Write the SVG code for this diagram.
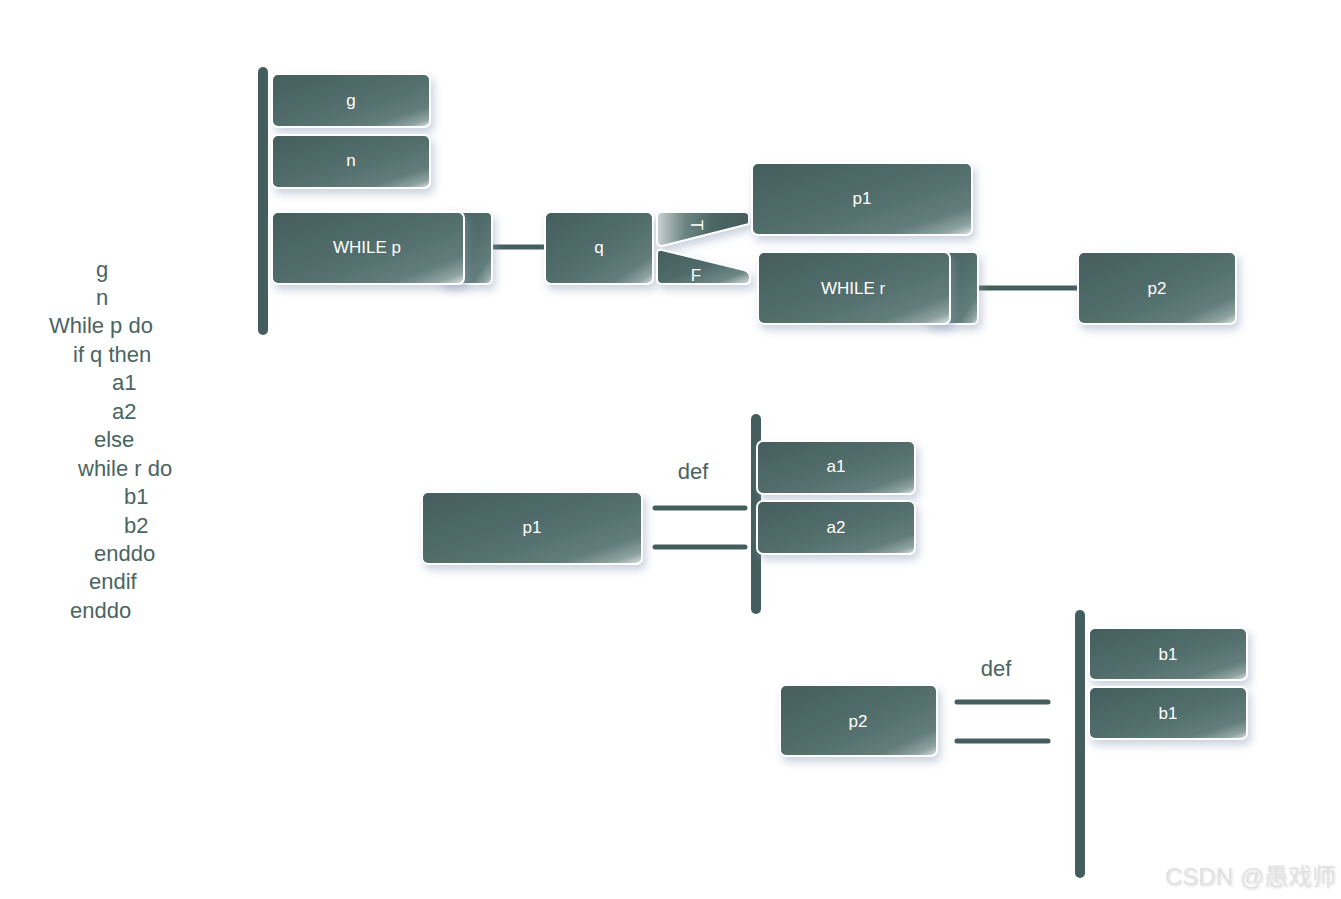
<svg xmlns="http://www.w3.org/2000/svg" width="1341" height="899" viewBox="0 0 1341 899">
<defs>
<linearGradient id="gb" x1="0" y1="0" x2="1" y2="1">
<stop offset="0" stop-color="#445e5d"/>
<stop offset="0.55" stop-color="#536f6d"/>
<stop offset="0.8" stop-color="#627d7b"/>
<stop offset="0.92" stop-color="#8ea3a1"/>
<stop offset="1" stop-color="#dfe6e5"/>
</linearGradient>
<linearGradient id="gt" x1="0" y1="0" x2="1" y2="0">
<stop offset="0" stop-color="#c9d3d2"/>
<stop offset="0.3" stop-color="#6c8583"/>
<stop offset="0.6" stop-color="#4c6765"/>
<stop offset="1" stop-color="#445e5d"/>
</linearGradient>
<linearGradient id="gf" x1="0" y1="0" x2="1" y2="1">
<stop offset="0" stop-color="#445e5d"/>
<stop offset="0.5" stop-color="#4f6b69"/>
<stop offset="0.8" stop-color="#6e8886"/>
<stop offset="1" stop-color="#dbe3e2"/>
</linearGradient>
<filter id="sh" x="-20%" y="-30%" width="140%" height="170%">
<feGaussianBlur in="SourceAlpha" stdDeviation="4"/>
<feOffset dx="3" dy="5" result="b"/>
<feFlood flood-color="#8a9ab8" flood-opacity="0.45"/>
<feComposite in2="b" operator="in"/>
<feMerge><feMergeNode/><feMergeNode in="SourceGraphic"/></feMerge>
</filter>
<filter id="ws" x="-10%" y="-30%" width="120%" height="160%">
<feGaussianBlur in="SourceAlpha" stdDeviation="0.8"/>
<feOffset dx="1" dy="1" result="b"/>
<feFlood flood-color="#aaaaaa" flood-opacity="0.4"/>
<feComposite in2="b" operator="in"/>
<feMerge><feMergeNode/><feMergeNode in="SourceGraphic"/></feMerge>
</filter>
</defs>
<style>
.box{fill:url(#gb);stroke:#ffffff;stroke-width:2;filter:url(#sh)}
.lbl{font-family:"Liberation Sans",Arial,sans-serif;font-size:17px;fill:#ffffff;text-anchor:middle}
.code{font-family:"Liberation Sans",Arial,sans-serif;font-size:22px;fill:#4a6462}
.bar{stroke:#445e5d;stroke-width:10;stroke-linecap:round}
.ln{stroke:#445e5d;stroke-width:5;stroke-linecap:round}
.def{font-family:"Liberation Sans",Arial,sans-serif;font-size:22px;fill:#4a6462;text-anchor:middle}
</style>
<rect width="1341" height="899" fill="#ffffff"/>

<g id="code">
<text class="code" x="96" y="277">g</text>
<text class="code" x="96" y="305">n</text>
<text class="code" x="49" y="333">While p do</text>
<text class="code" x="73" y="362">if q then</text>
<text class="code" x="112" y="390">a1</text>
<text class="code" x="112" y="419">a2</text>
<text class="code" x="94" y="447">else</text>
<text class="code" x="78" y="476">while r do</text>
<text class="code" x="124" y="504">b1</text>
<text class="code" x="124" y="533">b2</text>
<text class="code" x="94" y="561">enddo</text>
<text class="code" x="89" y="589">endif</text>
<text class="code" x="70" y="618">enddo</text>
</g>

<g id="connectors">
<line class="bar" x1="263" y1="72" x2="263" y2="330"/>
<line class="ln" x1="494" y1="247" x2="546" y2="247"/>
<line class="ln" x1="978" y1="288" x2="1080" y2="288"/>
<line class="bar" x1="756" y1="419" x2="756" y2="609"/>
<line class="ln" x1="655" y1="508" x2="745" y2="508"/>
<line class="ln" x1="655" y1="547" x2="745" y2="547"/>
<line class="bar" x1="1080" y1="615" x2="1080" y2="873"/>
<line class="ln" x1="957" y1="702" x2="1048" y2="702"/>
<line class="ln" x1="957" y1="741" x2="1048" y2="741"/>
</g>

<g id="node-g"><rect class="box" x="272" y="74" width="158" height="53" rx="6"/><text class="lbl" x="351" y="106">g</text></g>
<g id="node-n"><rect class="box" x="272" y="135" width="158" height="53" rx="6"/><text class="lbl" x="351" y="166">n</text></g>
<g id="node-whilep">
<rect class="box" x="440" y="212" width="52" height="72" rx="5"/>
<rect class="box" x="272" y="212" width="192" height="72" rx="6"/>
<text class="lbl" x="367" y="253">WHILE p</text>
</g>
<g id="node-q"><rect class="box" x="545" y="212" width="108" height="72" rx="6"/><text class="lbl" x="599" y="253">q</text></g>
<g id="branch-T">
<path d="M662 212 L744 212 Q750 212 749 218 L749 224 L662 246 Q657 246 657 241 L657 217 Q657 212 662 212 Z" fill="url(#gt)" stroke="#ffffff" stroke-width="2" filter="url(#sh)"/>
<text class="lbl" transform="translate(697,225) rotate(90)" y="6">T</text>
</g>
<g id="branch-F">
<path d="M662 250 L744 270 Q750 272 750 277 L750 279 Q750 284 745 284 L662 284 Q657 284 657 279 L657 254 Q657 249 662 250 Z" fill="url(#gf)" stroke="#ffffff" stroke-width="2" filter="url(#sh)"/>
<text class="lbl" x="696" y="281">F</text>
</g>
<g id="node-p1-top"><rect class="box" x="752" y="163" width="220" height="72" rx="6"/><text class="lbl" x="862" y="204">p1</text></g>
<g id="node-whiler">
<rect class="box" x="926" y="252" width="52" height="72" rx="5"/>
<rect class="box" x="758" y="252" width="192" height="72" rx="6"/>
<text class="lbl" x="853" y="294">WHILE r</text>
</g>
<g id="node-p2-top"><rect class="box" x="1078" y="252" width="158" height="72" rx="6"/><text class="lbl" x="1157" y="294">p2</text></g>

<g id="node-p1-def"><rect class="box" x="422" y="492" width="220" height="72" rx="6"/><text class="lbl" x="532" y="533">p1</text></g>
<text class="def" x="693" y="479">def</text>
<g id="node-a1"><rect class="box" x="757" y="441" width="158" height="53" rx="6"/><text class="lbl" x="836" y="472">a1</text></g>
<g id="node-a2"><rect class="box" x="757" y="501" width="158" height="53" rx="6"/><text class="lbl" x="836" y="533">a2</text></g>

<g id="node-p2-def"><rect class="box" x="780" y="685" width="157" height="71" rx="6"/><text class="lbl" x="858" y="727">p2</text></g>
<text class="def" x="996" y="676">def</text>
<g id="node-b1a"><rect class="box" x="1089" y="628" width="158" height="52" rx="6"/><text class="lbl" x="1168" y="660">b1</text></g>
<g id="node-b1b"><rect class="box" x="1089" y="687" width="158" height="52" rx="6"/><text class="lbl" x="1168" y="719">b1</text></g>

<text x="1165" y="885" font-family="Liberation Sans, Noto Sans CJK SC, sans-serif" font-size="24" fill="#e2e2e2" filter="url(#ws)">CSDN @愚戏师</text>
</svg>
